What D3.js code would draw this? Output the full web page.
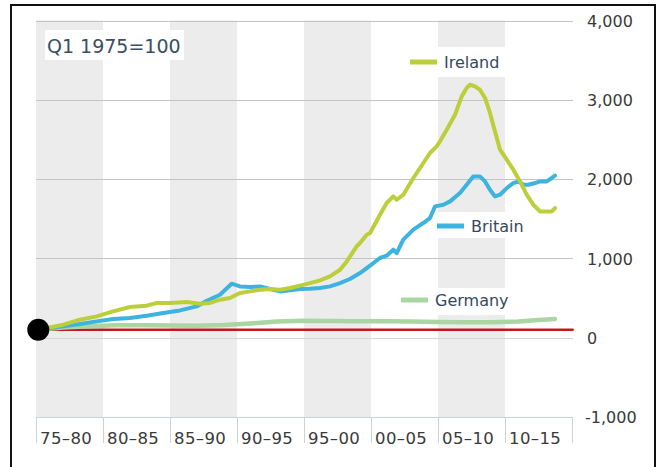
<!DOCTYPE html>
<html>
<head>
<meta charset="utf-8">
<script src="https://cdn.jsdelivr.net/npm/d3@7/dist/d3.min.js"></script>
<style>
  html, body { margin: 0; padding: 0; background: #fff; }
  svg { display: block; font-family: Verdana, "DejaVu Sans", sans-serif; }
</style>
</head>
<body>
<svg id="chart" width="660" height="467"></svg>
<script>
// House prices index, Q1 1975 = 100
const periods = ["75–80", "80–85", "85–90", "90–95", "95–00", "00–05", "05–10", "10–15"];
const periodStarts = [1975, 1980, 1985, 1990, 1995, 2000, 2005, 2010];
const yTicks = [-1000, 0, 1000, 2000, 3000, 4000];

const irelandYears = [1975.17, 1977.04, 1978.28, 1979.53, 1980.75, 1982.01, 1983.26, 1984.00, 1985.00, 1986.25,
  1987.24, 1987.99, 1988.73, 1989.48, 1990.22, 1990.97, 1991.72, 1992.46, 1993.21, 1993.96,
  1994.70, 1995.45, 1996.19, 1996.94, 1997.69, 1998.19, 1998.93, 1999.18, 1999.68, 1999.93,
  2000.67, 2001.17, 2001.66, 2001.92, 2002.41, 2003.16, 2003.66, 2004.40, 2004.90, 2005.15,
  2005.65, 2006.27, 2006.77, 2007.14, 2007.39, 2007.76, 2008.13, 2008.51, 2008.88, 2009.25,
  2009.63, 2010.13, 2010.62, 2011.12, 2011.62, 2012.11, 2012.61, 2013.11, 2013.49, 2013.73];
const irelandValues = [100, 164, 227, 269, 332, 387, 404, 438, 438, 450,
  429, 438, 479, 500, 563, 584, 605, 614, 605, 626,
  656, 689, 723, 773, 857, 962, 1151, 1194, 1299, 1320,
  1551, 1699, 1782, 1740, 1803, 2014, 2140, 2329, 2413, 2476,
  2623, 2812, 3043, 3149, 3190, 3169, 3127, 3023, 2834, 2602,
  2371, 2245, 2119, 1971, 1803, 1677, 1593, 1593, 1593, 1635];

const britainYears = [1975.17, 1977.04, 1978.28, 1979.53, 1980.77, 1982.01, 1983.26, 1984.50, 1985.75, 1986.99,
  1987.74, 1988.73, 1989.60, 1990.22, 1990.97, 1991.72, 1992.46, 1993.21, 1993.96, 1994.70,
  1995.45, 1996.19, 1996.94, 1997.69, 1998.43, 1999.18, 1999.93, 2000.67, 2001.17, 2001.66,
  2001.92, 2002.41, 2003.16, 2003.90, 2004.40, 2004.78, 2005.40, 2005.90, 2006.64, 2007.14,
  2007.63, 2008.13, 2008.51, 2008.88, 2009.25, 2009.63, 2010.13, 2010.62, 2011.00, 2011.37,
  2011.74, 2012.24, 2012.61, 2013.11, 2013.49, 2013.73];
const britainValues = [100, 143, 172, 206, 236, 248, 277, 311, 344, 395,
  465, 542, 681, 647, 639, 647, 614, 584, 597, 614,
  618, 626, 647, 689, 740, 815, 910, 1005, 1034, 1110,
  1068, 1236, 1362, 1446, 1509, 1656, 1677, 1719, 1824, 1929,
  2034, 2034, 1971, 1866, 1782, 1803, 1887, 1950, 1971, 1929,
  1929, 1950, 1971, 1971, 2014, 2043];

const germanyYears = [1975.17, 1977, 1979, 1981, 1983, 1985, 1987, 1989, 1991, 1993,
  1995, 1997, 1999, 2001, 2003, 2005, 2007, 2009, 2011, 2012.5, 2013.73];
const germanyValues = [100, 128, 145, 158, 158, 155, 150, 160, 180, 205,
  215, 212, 208, 206, 203, 198, 194, 196, 205, 222, 236];

const baseYears = [1975.17, 2015.05];
const baseValues = [100, 100];

const svg = d3.select("#chart");

// Plot geometry
const plot = { left: 36, right: 572, top: 20, bottom: 417 };
const x = d3.scaleLinear().domain([1975, 2015]).range([plot.left, plot.right]);
const y = d3.scaleLinear().domain([-1000, 4000]).range([417, 20.5]);

// Alternating period bands
svg.append("g").selectAll("rect")
  .data(periodStarts.filter((d, i) => i % 2 === 0))
  .join("rect")
  .attr("x", d => x(d))
  .attr("y", y(4000))
  .attr("width", d => x(d + 5) - x(d))
  .attr("height", y(-1000) - y(4000))
  .attr("fill", "#ececec");

// Horizontal gridlines
svg.append("g").selectAll("line")
  .data(yTicks.filter(d => d !== -1000))
  .join("line")
  .attr("x1", plot.left).attr("x2", plot.right + 1)
  .attr("y1", d => Math.round(y(d)) + 0.5).attr("y2", d => Math.round(y(d)) + 0.5)
  .attr("stroke", d => d === 0 ? "#d6d6d6" : "#c4c4c4")
  .attr("stroke-width", 1);

// Right-hand value axis (plain hyphen for negatives)
const fmt = d3.format(",");
const yAxis = d3.axisRight(y).tickValues(yTicks).tickSize(0).tickPadding(0)
  .tickFormat(d => fmt(d).replace("−", "-"));
const yAxisG = svg.append("g")
  .attr("transform", `translate(587,0)`)
  .call(yAxis);
yAxisG.select(".domain").remove();
yAxisG.selectAll("text")
  .attr("x", 0)
  .attr("dy", "0.36em")
  .attr("fill", "#3a3a3a")
  .style("font-size", "16px")
  .style("font-family", "Verdana, 'DejaVu Sans', sans-serif");
yAxisG.selectAll(".tick").filter(d => d < 0).select("text").attr("x", -2);

// Period label strip
const strip = svg.append("g");
strip.append("line")
  .attr("x1", plot.left).attr("x2", plot.right)
  .attr("y1", 417.5).attr("y2", 417.5)
  .attr("stroke", "#c9d3dd");
strip.selectAll("line.sep")
  .data(periodStarts.concat([2015]))
  .join("line")
  .attr("class", "sep")
  .attr("x1", d => Math.round(x(d)) + 0.5).attr("x2", d => Math.round(x(d)) + 0.5)
  .attr("y1", 417).attr("y2", 443)
  .attr("stroke", "#c9d3dd");
strip.selectAll("text")
  .data(periods)
  .join("text")
  .attr("x", (d, i) => x(periodStarts[i]) + 4)
  .attr("y", 444)
  .attr("fill", "#3a3a3a")
  .style("font-size", "16.5px")
  .style("letter-spacing", "0.4px")
  .text(d => d);

// Series
const line = d3.line().x(d => x(d[0])).y(d => y(d[1])).curve(d3.curveLinear);
const series = [
  { name: "Base", years: baseYears, values: baseValues, color: "#c01a1a", width: 2.5 },
  { name: "Germany", years: germanyYears, values: germanyValues, color: "#a9d6a3", width: 4.5 },
  { name: "Britain", years: britainYears, values: britainValues, color: "#3db3e0", width: 4 },
  { name: "Ireland", years: irelandYears, values: irelandValues, color: "#bccf3a", width: 4 }
];

// Legend labels with white backing
const legend = [
  { name: "Ireland", color: "#bccf3a", box: [404, 47, 104, 30], lx: 410, ly: 62 },
  { name: "Britain", color: "#3db3e0", box: [433, 212, 92, 26], lx: 437, ly: 226 },
  { name: "Germany", color: "#a9d6a3", box: [396, 288, 116, 27], lx: 401, ly: 300 }
];
const lg = svg.append("g");
legend.forEach(l => {
  lg.append("rect").attr("x", l.box[0]).attr("y", l.box[1])
    .attr("width", l.box[2]).attr("height", l.box[3]).attr("fill", "#fff");
  lg.append("line").attr("x1", l.lx).attr("x2", l.lx + 27)
    .attr("y1", l.ly).attr("y2", l.ly)
    .attr("stroke", l.color).attr("stroke-width", 5);
  lg.append("text").attr("x", l.lx + 34).attr("y", l.ly).attr("dy", "0.36em")
    .attr("fill", "#34495e").style("font-size", "16px").text(l.name);
});

svg.append("g").selectAll("path")
  .data(series)
  .join("path")
  .attr("d", s => line(s.years.map((yr, i) => [yr, s.values[i]])))
  .attr("fill", "none")
  .attr("stroke", s => s.color)
  .attr("stroke-width", s => s.width)
  .attr("stroke-linejoin", "round")
  .attr("stroke-linecap", "round");

// Index base marker
svg.append("circle")
  .attr("cx", x(irelandYears[0])).attr("cy", y(100))
  .attr("r", 11).attr("fill", "#000");

// Index note
svg.append("rect").attr("x", 45).attr("y", 30).attr("width", 139).attr("height", 30).attr("fill", "#fff");
svg.append("text").attr("x", 47).attr("y", 52.5)
  .attr("fill", "#3a4f63").style("font-size", "19px").text("Q1 1975=100");

// Frame
svg.append("rect").attr("x", 11).attr("y", 5).attr("width", 644).attr("height", 470)
  .attr("fill", "none").attr("stroke", "#111").attr("stroke-width", 2);
</script>
</body>
</html>
